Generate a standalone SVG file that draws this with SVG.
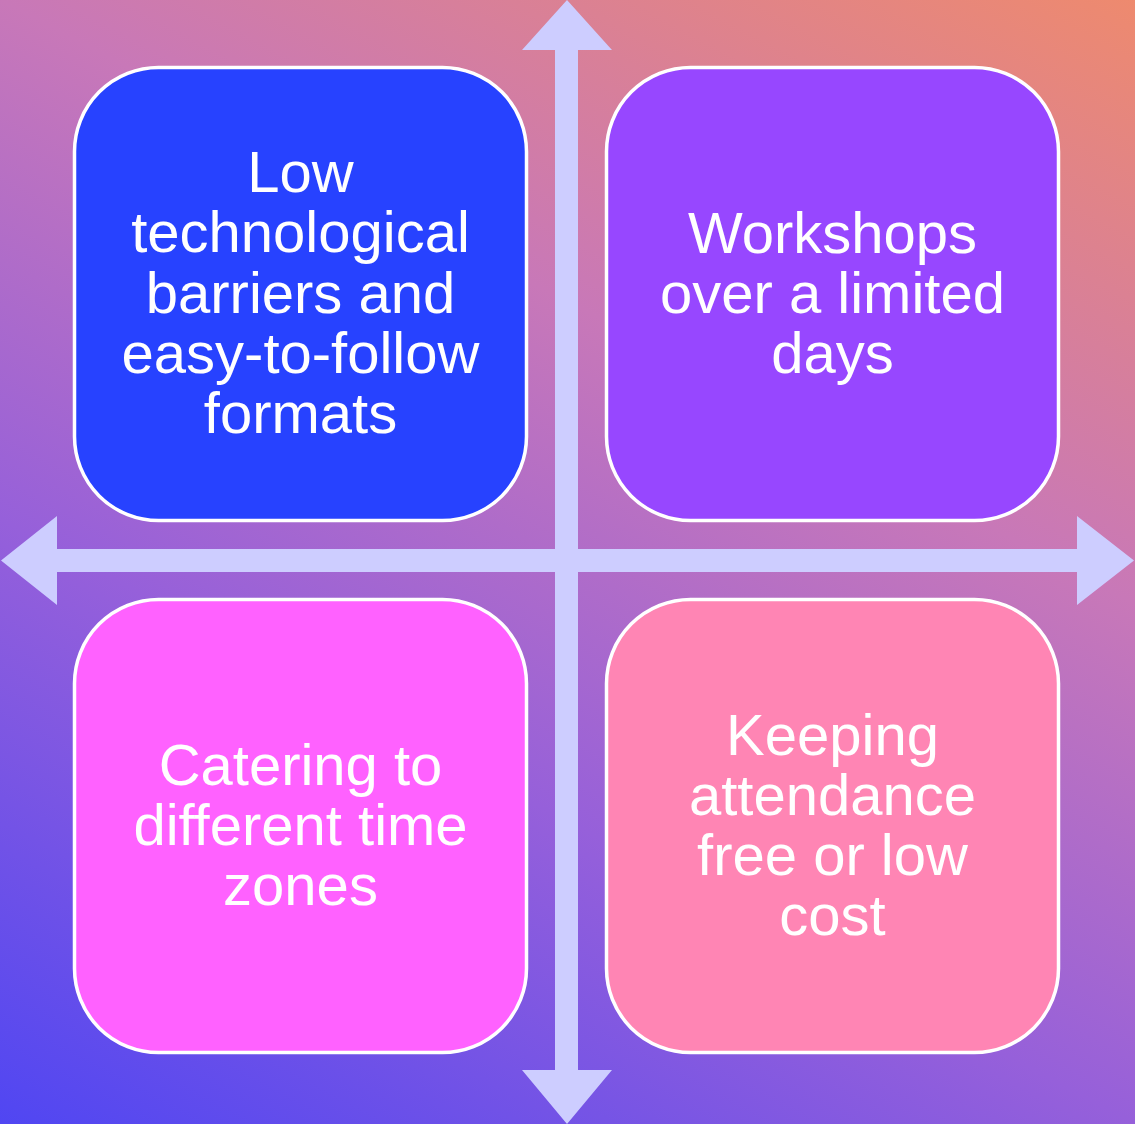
<svg xmlns="http://www.w3.org/2000/svg" width="1135" height="1124" viewBox="0 0 1135 1124">
  <defs>
    <linearGradient id="bg" gradientUnits="userSpaceOnUse" x1="0" y1="1124" x2="718" y2="-224">
      <stop offset="0" stop-color="#5046F2"/>
      <stop offset="0.35" stop-color="#9660DA"/>
      <stop offset="0.65" stop-color="#C878B8"/>
      <stop offset="1" stop-color="#EE8A6E"/>
    </linearGradient>
    <style>
      .box { stroke: #FFFFFF; stroke-width: 3.5; }
      .label { font-family: "Liberation Sans", Arial, sans-serif; font-size: 58px; fill: #FFFFFF; text-anchor: middle; }
      .axis { fill: #CDCDFF; }
    </style>
  </defs>

  <!-- background -->
  <rect x="0" y="0" width="1135" height="1124" fill="url(#bg)"/>

  <!-- axes: double-headed arrows crossing in the middle -->
  <g id="connectors">
    <polygon class="axis" points="567,0 612,50 578,50 578,1070 612,1070 567,1124 522,1070 555,1070 555,50 522,50"/>
    <polygon class="axis" points="1,560.5 57,516 57,549 1077,549 1077,516 1134,560.5 1077,605 1077,572 57,572 57,605"/>
  </g>

  <!-- quadrant: top left -->
  <g id="node-tech">
    <rect class="box" x="74.5" y="67.5" width="452" height="453" rx="84" fill="#2742FF"/>
    <text class="label" x="300.5" y="192">Low</text>
    <text class="label" x="300.5" y="252">technological</text>
    <text class="label" x="300.5" y="312.5">barriers and</text>
    <text class="label" x="300.5" y="372.5">easy-to-follow</text>
    <text class="label" x="300.5" y="433">formats</text>
  </g>

  <!-- quadrant: top right -->
  <g id="node-workshops">
    <rect class="box" x="606.5" y="67.5" width="452" height="453" rx="84" fill="#9747FF"/>
    <text class="label" x="832.5" y="253">Workshops</text>
    <text class="label" x="832.5" y="313">over a limited</text>
    <text class="label" x="832.5" y="373">days</text>
  </g>

  <!-- quadrant: bottom left -->
  <g id="node-timezones">
    <rect class="box" x="74.5" y="599.5" width="452" height="453" rx="84" fill="#FF61FF"/>
    <text class="label" x="300.5" y="785">Catering to</text>
    <text class="label" x="300.5" y="845">different time</text>
    <text class="label" x="300.5" y="905">zones</text>
  </g>

  <!-- quadrant: bottom right -->
  <g id="node-cost">
    <rect class="box" x="606.5" y="599.5" width="452" height="453" rx="84" fill="#FF85B4"/>
    <text class="label" x="832.5" y="755">Keeping</text>
    <text class="label" x="832.5" y="815">attendance</text>
    <text class="label" x="832.5" y="875">free or low</text>
    <text class="label" x="832.5" y="935">cost</text>
  </g>
</svg>
